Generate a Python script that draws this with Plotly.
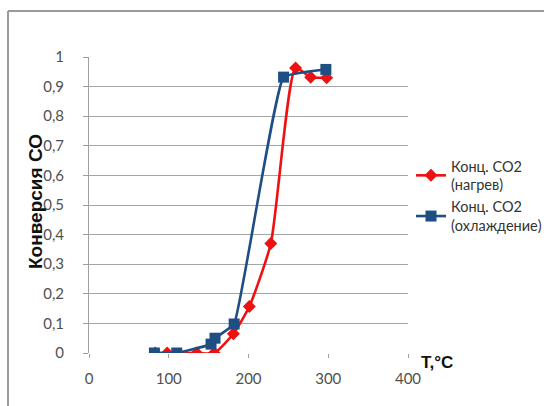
import plotly.graph_objects as go

# Heating run (red) and cooling run (blue): CO conversion vs temperature
heat_T = [83, 98, 135, 157, 181, 201, 228, 259, 278, 298]
heat_X = [0, 0, 0, 0, 0.065, 0.157, 0.37, 0.963, 0.932, 0.93]

cool_T = [82, 110, 153, 158, 182, 244, 297]
cool_X = [0, 0, 0.03, 0.05, 0.098, 0.932, 0.958]

y_ticks = [0, 0.1, 0.2, 0.3, 0.4, 0.5, 0.6, 0.7, 0.8, 0.9, 1]
y_labels = ["0", "0,1", "0,2", "0,3", "0,4", "0,5", "0,6", "0,7", "0,8", "0,9", "1"]
x_ticks = [0, 100, 200, 300, 400]

W, H = 544, 406
L, R, T, B = 89, 136, 57, 53

tick_font = dict(family="Lato, Open Sans, sans-serif", size=15, color="#505050")
title_font = dict(family="Liberation Sans, Arial, sans-serif", color="#111111")

fig = go.Figure()
fig.add_trace(go.Scatter(
    x=heat_T, y=heat_X, mode="lines+markers",
    name="Конц. CO2<br>(нагрев)",
    line=dict(color="#ee1111", width=2.6, shape="spline", smoothing=0.55),
    marker=dict(symbol="diamond", size=10, color="#ee1111"),
))
fig.add_trace(go.Scatter(
    x=cool_T, y=cool_X, mode="lines+markers",
    name="Конц. CO2<br>(охлаждение)",
    line=dict(color="#1f4e85", width=2.6, shape="spline", smoothing=0.3),
    marker=dict(symbol="square", size=11, color="#1f4e85"),
))

plot_w = W - L - R
plot_h = H - T - B


def px_x(p):
    return (p - L) / plot_w


def px_y(p):
    return (H - B - p) / plot_h


border = dict(color="#9a9a9a", width=2)
shapes = [
    dict(type="line", xref="paper", yref="paper", x0=px_x(8), x1=px_x(W + 2),
         y0=px_y(11), y1=px_y(11), line=border),
    dict(type="line", xref="paper", yref="paper", x0=px_x(8), x1=px_x(8),
         y0=px_y(11), y1=px_y(H + 2), line=border),
]

fig.update_layout(
    width=W, height=H,
    margin=dict(l=L, r=R, t=T, b=B, autoexpand=False),
    paper_bgcolor="white", plot_bgcolor="white",
    showlegend=True,
    legend=dict(
        x=px_x(411), y=px_y(150), xanchor="left", yanchor="top",
        font=dict(family="Lato, Open Sans, sans-serif", size=14.5, color="#333333"),
        bgcolor="rgba(0,0,0,0)", tracegroupgap=0, itemwidth=30,
    ),
    xaxis=dict(
        range=[0, 400], tickvals=x_ticks, showgrid=False, zeroline=False,
        showline=False, ticks="outside", ticklen=4, tickcolor="#a0a0a0",
        tickfont=tick_font, ticklabelstandoff=8, fixedrange=True,
    ),
    yaxis=dict(
        range=[0, 1], tickvals=y_ticks, ticktext=y_labels,
        showgrid=True, gridcolor="#a6a6a6", gridwidth=1, zeroline=False,
        showline=True, linecolor="#a0a0a0", linewidth=1,
        ticks="outside", ticklen=5, tickcolor="#a0a0a0",
        tickfont=tick_font, ticklabelstandoff=16,
    ),
    shapes=shapes,
    annotations=[
        dict(text="<b>Конверсия СО</b>", xref="paper", yref="paper",
             x=px_x(35), y=px_y(202), xanchor="center", yanchor="middle",
             textangle=-90, showarrow=False, font=dict(size=19, **title_font)),
        dict(text="<b>T,°C</b>", xref="paper", yref="paper",
             x=px_x(419), y=px_y(362), xanchor="left", yanchor="middle",
             showarrow=False, font=dict(size=17, **title_font)),
    ],
)

fig.write_html("out.html")
